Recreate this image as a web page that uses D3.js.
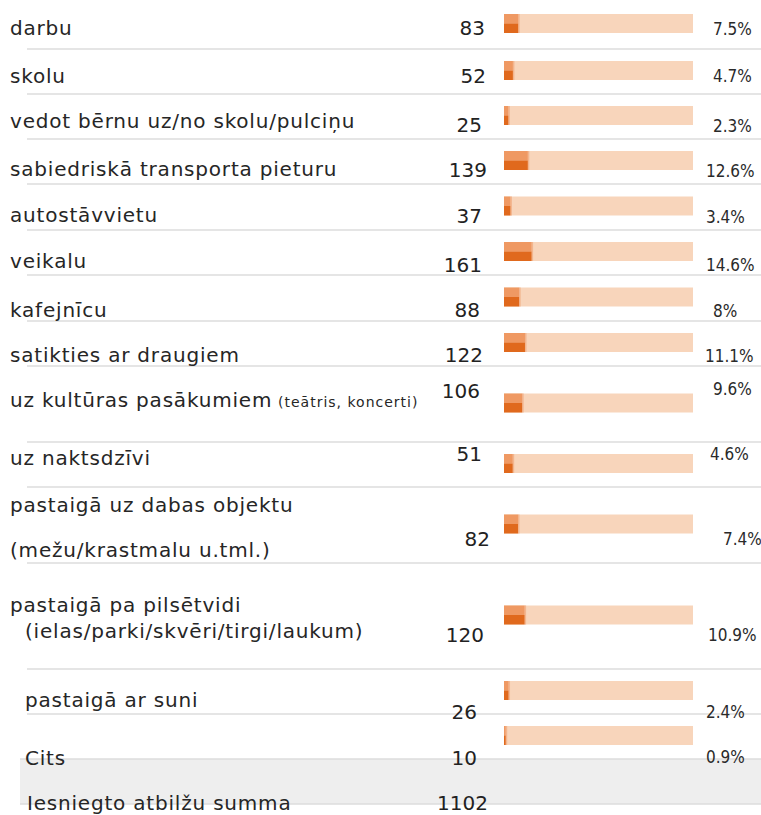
<!DOCTYPE html>
<html>
<head>
<meta charset="utf-8">
<script src="https://cdn.jsdelivr.net/npm/d3@7"></script>
<style>
  html, body { margin: 0; padding: 0; background: #ffffff; }
  svg { display: block; }
  .lbl { font-family: "DejaVu Sans", sans-serif; font-size: 20px; letter-spacing: 0.8px; fill: #262626; }
  .lbl .small { font-size: 14px; letter-spacing: 1px; }
  .num { font-family: "DejaVu Sans", sans-serif; font-size: 20px; fill: #222222; }
  .pct { font-family: "DejaVu Sans Condensed", "DejaVu Sans", sans-serif; font-stretch: condensed; font-size: 17px; fill: #2a2a2a; }
</style>
</head>
<body>
<script>
// ---------------- data ----------------
const categories = [
  ["darbu"],
  ["skolu"],
  ["vedot bērnu uz/no skolu/pulciņu"],
  ["sabiedriskā transporta pieturu"],
  ["autostāvvietu"],
  ["veikalu"],
  ["kafejnīcu"],
  ["satikties ar draugiem"],
  ["uz kultūras pasākumiem|(teātris, koncerti)"],
  ["uz naktsdzīvi"],
  ["pastaigā uz dabas objektu", "(mežu/krastmalu u.tml.)"],
  ["pastaigā pa pilsētvidi", "(ielas/parki/skvēri/tirgi/laukum)"],
  ["pastaigā ar suni"],
  ["Cits"]
];
const counts   = [83, 52, 25, 139, 37, 161, 88, 122, 106, 51, 82, 120, 26, 10];
const percents = [7.5, 4.7, 2.3, 12.6, 3.4, 14.6, 8, 11.1, 9.6, 4.6, 7.4, 10.9, 2.4, 0.9];
const totalLabel = "Iesniegto atbilžu summa";
const totalValue = 1102;

// ---------------- layout (not data) ----------------
const W = 761, H = 815;
const rowEdges   = [0, 49, 94, 139, 184, 230, 275, 321, 366, 442, 487, 563, 669, 714, 759, 804];
const labelBase  = [[35],[83],[128],[176],[222],[268],[317],[362],[407],[465],[512,557],[612,638],[707],[765]];
const labelX     = [[10],[10],[10],[10],[10],[10],[10],[10],[10],[10],[10,10],[10,25],[25],[25]];
const numBase    = [35, 83, 132, 177, 223, 272, 317, 362, 398, 461, 546, 642, 719, 765];
const numRight   = [485, 486, 482, 487, 482, 482, 480, 483, 480, 482, 490, 484, 477, 477];
const pctBase    = [35, 82, 132, 177, 223, 271, 317, 362, 395, 460, 545, 641, 718, 763];
const pctLeft    = [713, 713, 713, 706, 706, 706, 713, 705, 713, 710, 723, 708, 706, 706];
const barH = 19;

const x = d3.scaleLinear().domain([0, 100]).range([504, 693]);

const svg = d3.select("body").append("svg")
  .attr("width", W).attr("height", H)
  .attr("viewBox", `0 0 ${W} ${H}`);

// total row band
svg.append("rect")
  .attr("x", 20).attr("y", rowEdges[14]).attr("width", W - 20).attr("height", rowEdges[15] - rowEdges[14])
  .attr("fill", "#eeeeee");

// separators
svg.append("g").selectAll("line")
  .data(rowEdges.slice(1))
  .join("line")
  .attr("x1", (d, i) => i >= 13 ? 20 : 27).attr("x2", W)
  .attr("y1", d => d).attr("y2", d => d)
  .attr("stroke", "#dcdcdc").attr("stroke-width", 1.5);

const rows = counts.map((c, i) => ({
  i, count: c, pct: percents[i], lines: categories[i],
  yc: (rowEdges[i] + rowEdges[i + 1]) / 2
}));

const g = svg.append("g").selectAll("g.row").data(rows).join("g").attr("class", "row");

// bar track
g.append("rect")
  .attr("x", x(0)).attr("width", x(100) - x(0))
  .attr("y", d => d.yc - 10.5).attr("height", barH)
  .attr("fill", "#f8d5bb");
// pale edge
g.append("rect")
  .attr("x", d => x(d.pct)).attr("width", 1.5)
  .attr("y", d => d.yc - 10.5).attr("height", barH)
  .attr("fill", "#f3b58e");
// fill top half
g.append("rect")
  .attr("x", x(0)).attr("width", d => x(d.pct) - x(0))
  .attr("y", d => d.yc - 10.5).attr("height", barH / 2)
  .attr("fill", "#ef9963");
// fill bottom half
g.append("rect")
  .attr("x", x(0)).attr("width", d => x(d.pct) - x(0))
  .attr("y", d => d.yc - 10.5 + barH / 2).attr("height", barH / 2)
  .attr("fill", "#e0691d");

// labels
g.each(function(d) {
  const sel = d3.select(this);
  d.lines.forEach((line, k) => {
    const t = sel.append("text").attr("class", "lbl")
      .attr("x", labelX[d.i][k]).attr("y", labelBase[d.i][k]);
    const parts = line.split("|");
    t.append("tspan").text(parts[0]);
    if (parts[1]) {
      t.append("tspan").attr("class", "small").attr("x", 278).text(parts[1]);
    }
  });
});

// counts
g.append("text").attr("class", "num")
  .attr("x", d => numRight[d.i]).attr("y", d => numBase[d.i])
  .attr("text-anchor", "end")
  .text(d => d.count);

// percents
g.append("text").attr("class", "pct")
  .attr("x", d => pctLeft[d.i]).attr("y", d => pctBase[d.i])
  .text(d => d.pct + "%");

// total row
svg.append("text").attr("class", "lbl").attr("x", 27).attr("y", 810).text(totalLabel);
svg.append("text").attr("class", "num").attr("x", 488).attr("y", 810)
  .attr("text-anchor", "end").text(totalValue);
</script>
</body>
</html>
